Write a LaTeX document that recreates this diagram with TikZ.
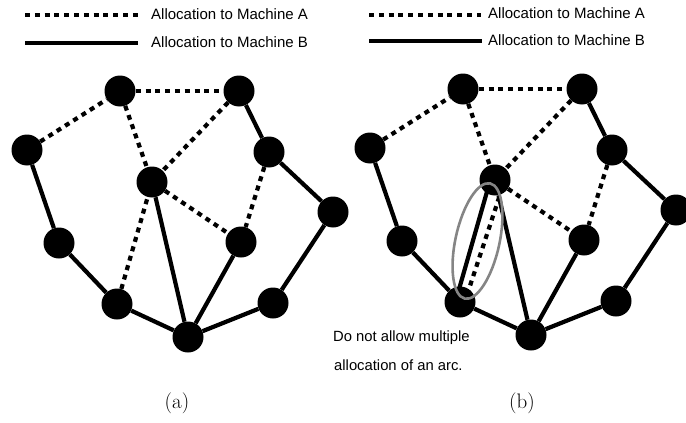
\documentclass[tikz,border=0pt]{standalone}
\usepackage{fontspec}
\newfontfamily\labelfont{Liberation Sans}
\usetikzlibrary{backgrounds,calc}
\tikzset{
  vertex/.style={circle,fill=black,draw=none,minimum size=31pt,inner sep=0pt},
  machA/.style={line width=4.2pt,dash pattern=on 5pt off 4.8pt,line cap=butt,draw=black},
  machB/.style={line width=4.2pt,line cap=butt,draw=black},
  legtext/.style={font=\labelfont\fontsize{15}{17}\selectfont,anchor=west,inner sep=0pt},
  notetext/.style={font=\labelfont\fontsize{14.8}{17}\selectfont,anchor=base west,inner sep=0pt},
  caption/.style={font=\fontsize{21}{23}\selectfont,inner sep=0pt},
  marker/.style={draw=black!48,line width=2.6pt}
}
\begin{document}
\begin{tikzpicture}[x=1pt,y=-1pt]
\clip (0,0) rectangle (686,423);

% legends
\coordinate (la1) at (25,15); \coordinate (la2) at (138,15);
\coordinate (lb1) at (25,43); \coordinate (lb2) at (138,43);
\draw[machA] (la1) -- (la2);
\draw[machB] (lb1) -- (lb2);
\node[legtext] (lta) at (151,14) {Allocation to Machine A};
\node[legtext] (ltb) at (151,42) {Allocation to Machine B};

\coordinate (ra1) at (369,15); \coordinate (ra2) at (481,15);
\coordinate (rb1) at (369,41); \coordinate (rb2) at (482,41);
\draw[machA] (ra1) -- (ra2);
\draw[machB] (rb1) -- (rb2);
\node[legtext] (rta) at (488,13) {Allocation to Machine A};
\node[legtext] (rtb) at (488,40) {Allocation to Machine B};

% nodes of graphs (a) and (b)
\foreach \n/\x/\y in {1/120/91,2/239/91,3/27/150,4/152/182,5/269/152,6/333/212,7/59/243,8/241/242,9/117/304,10/273/303,11/188/337}{
  \node[vertex] (a\n) at (\x,\y) {};
  \node[vertex] (b\n) at (\x+343,\y-2) {};
}
\begin{scope}[on background layer]
  \foreach \p in {a,b}{
    \draw[machA] (\p3) -- (\p1);
    \draw[machA] (\p1) -- (\p2);
    \draw[machA] (\p1) -- (\p4);
    \draw[machA] (\p2) -- (\p4);
    \draw[machA] (\p4) -- (\p8);
    \draw[machA] (\p5) -- (\p8);
    \draw[machB] (\p2) -- (\p5);
    \draw[machB] (\p5) -- (\p6);
    \draw[machB] (\p6) -- (\p10);
    \draw[machB] (\p10) -- (\p11);
    \draw[machB] (\p3) -- (\p7);
    \draw[machB] (\p7) -- (\p9);
    \draw[machB] (\p9) -- (\p11);
    \draw[machB] (\p4) -- (\p11);
    \draw[machB] (\p8) -- (\p11);
  }
  \draw[machA] (a9) -- (a4);
  \draw[machB] ($(b4.center)+(-4.3pt,1.2pt)$) -- ($(b9.center)+(-4.3pt,1.2pt)$);
  \draw[machA] ($(b4.south)+(4.3pt,-1.2pt)$) -- ($(b9.center)+(4.3pt,-1.2pt)$);
\end{scope}

% highlight ellipse
\coordinate (ec) at ($(b4)!0.5!(b9)$);
\draw[marker,rotate around={77.6:(ec)}] (ec) ellipse [x radius=59pt, y radius=22pt];

\node[notetext] (note1) at (333,341) {Do not allow multiple};
\node[notetext] (note2) at (334,370) {allocation of an arc.};

\node[caption] (capa) at (177,403) {(a)};
\node[caption] (capb) at (522,403) {(b)};
\end{tikzpicture}
\end{document}
